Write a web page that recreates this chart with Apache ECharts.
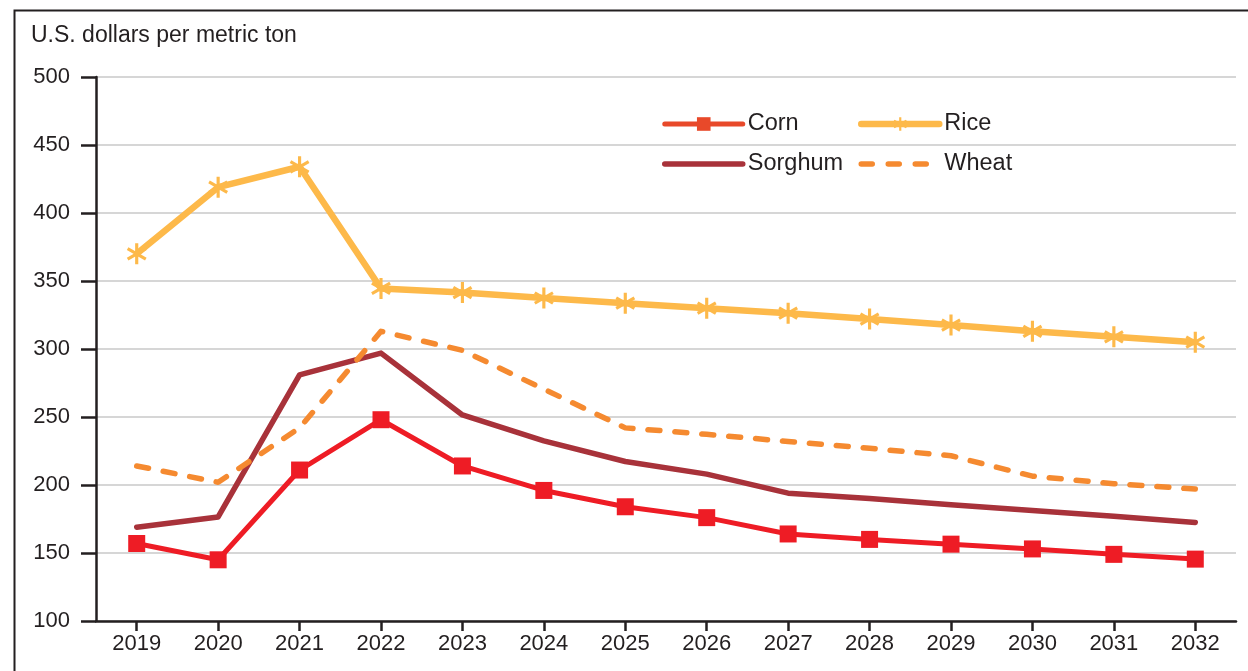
<!DOCTYPE html>
<html>
<head>
<meta charset="utf-8">
<script src="https://cdn.jsdelivr.net/npm/echarts@6/dist/echarts.min.js"></script>
<style>
html,body{margin:0;padding:0;background:#fff;}
#chart{width:1248px;height:671px;}
</style>
</head>
<body>
<div id="chart"></div>
<script>
const years = ['2019','2020','2021','2022','2023','2024','2025','2026','2027','2028','2029','2030','2031','2032'];
const corn    = [157, 145, 211, 248, 214, 196, 184, 176, 164, 160, 156.5, 153, 149, 145.5];
const rice    = [370, 419, 434, 344.5, 341.5, 337.5, 333.7, 330, 326.3, 322, 317.6, 313, 309, 305];
const sorghum = [169, 176.5, 281, 297, 251.5, 232.5, 217.3, 208, 194, 190, 185.5, 181.3, 177, 172.5];
const wheat   = [214, 202, 242, 313, 299, 270.5, 242, 237.3, 232, 227, 221.5, 206.5, 201, 197];
const yTicks = { min: 100, max: 500, interval: 50 };
const yName = 'U.S. dollars per metric ton';

const FONT = '"Liberation Sans", Arial, sans-serif';
const TXT = '#231F20';
const C_CORN = '#EE1C25', C_RICE = '#FDB94A', C_SORG = '#A8323A', C_WHEAT = '#F58A30';
const asterisk = 'path://M8.5,20 L11.5,20 L11.5,0 L8.5,0 Z M17.91,16.30 L19.41,13.70 L2.09,3.70 L0.59,6.30 Z M0.59,13.70 L2.09,16.30 L19.41,6.30 L17.91,3.70 Z';

const chart = echarts.init(document.getElementById('chart'));
const legendCommon = {
  orient: 'vertical',
  itemWidth: 78,
  itemHeight: 17,
  itemGap: 16,
  textStyle: { fontFamily: FONT, fontSize: 23.5, color: TXT, lineHeight: 24 },
  selectedMode: false
};
chart.setOption({
  animation: false,
  backgroundColor: '#fff',
  textStyle: { fontFamily: FONT },
  graphic: [{
    type: 'rect', left: 12, top: 8, shape: { width: 1300, height: 700 },
    style: { fill: 'none', stroke: TXT, lineWidth: 2 }, z: 100, silent: true
  }, {
    type: 'text', left: 31, top: 24,
    style: { text: yName, fontFamily: FONT, fontSize: 23, fill: TXT }
  }],
  grid: { left: 96, right: 12, top: 77, bottom: 50, containLabel: false },
  legend: [
    Object.assign({}, legendCommon, {
      left: 657, top: 107,
      data: [
        { name: 'Corn', itemStyle: { color: '#E8492A' }, lineStyle: { color: '#E8492A', width: 5, cap: 'round' } },
        { name: 'Sorghum', itemStyle: { opacity: 0 }, lineStyle: { color: C_SORG, width: 5.5, cap: 'round' } }
      ]
    }),
    Object.assign({}, legendCommon, {
      left: 853, top: 107,
      data: [
        { name: 'Rice', lineStyle: { color: C_RICE, width: 6.5, cap: 'round' } },
        { name: 'Wheat', itemStyle: { opacity: 0 }, lineStyle: { color: C_WHEAT, width: 5.5, type: [11, 16], cap: 'round' } }
      ]
    })
  ],
  xAxis: {
    type: 'category',
    data: years,
    boundaryGap: true,
    axisLine: { show: true, lineStyle: { color: TXT, width: 2.5 } },
    axisTick: { show: true, alignWithLabel: true, length: 10, lineStyle: { color: TXT, width: 2.5 } },
    axisLabel: { color: TXT, fontFamily: FONT, fontSize: 22, margin: 12 },
    splitLine: { show: false }
  },
  yAxis: {
    type: 'value',
    min: yTicks.min, max: yTicks.max, interval: yTicks.interval,
    axisLine: { show: true, lineStyle: { color: TXT, width: 2.5 } },
    axisTick: { show: true, inside: false, length: 15, lineStyle: { color: TXT, width: 2.5 } },
    axisLabel: { color: TXT, fontFamily: FONT, fontSize: 22, margin: 26 },
    splitLine: { show: true, lineStyle: { color: '#C9C9C9', width: 1.5 } }
  },
  series: [
    {
      name: 'Sorghum', type: 'line', data: sorghum, symbol: 'none', z: 2,
      lineStyle: { color: C_SORG, width: 5.5, cap: 'round', join: 'round' },
      itemStyle: { color: C_SORG }
    },
    {
      name: 'Wheat', type: 'line', data: wheat, symbol: 'none', z: 3,
      lineStyle: { color: C_WHEAT, width: 5.5, type: [12, 15], cap: 'round', join: 'round' },
      itemStyle: { color: C_WHEAT }
    },
    {
      name: 'Corn', type: 'line', data: corn, symbol: 'rect', symbolSize: 17, z: 4,
      lineStyle: { color: C_CORN, width: 5, join: 'round' },
      itemStyle: { color: C_CORN }
    },
    {
      name: 'Rice', type: 'line', data: rice, symbol: asterisk, symbolSize: 21, symbolKeepAspect: true, z: 5,
      lineStyle: { color: C_RICE, width: 6.5, join: 'round' },
      itemStyle: { color: C_RICE }
    }
  ]
});
</script>
</body>
</html>
